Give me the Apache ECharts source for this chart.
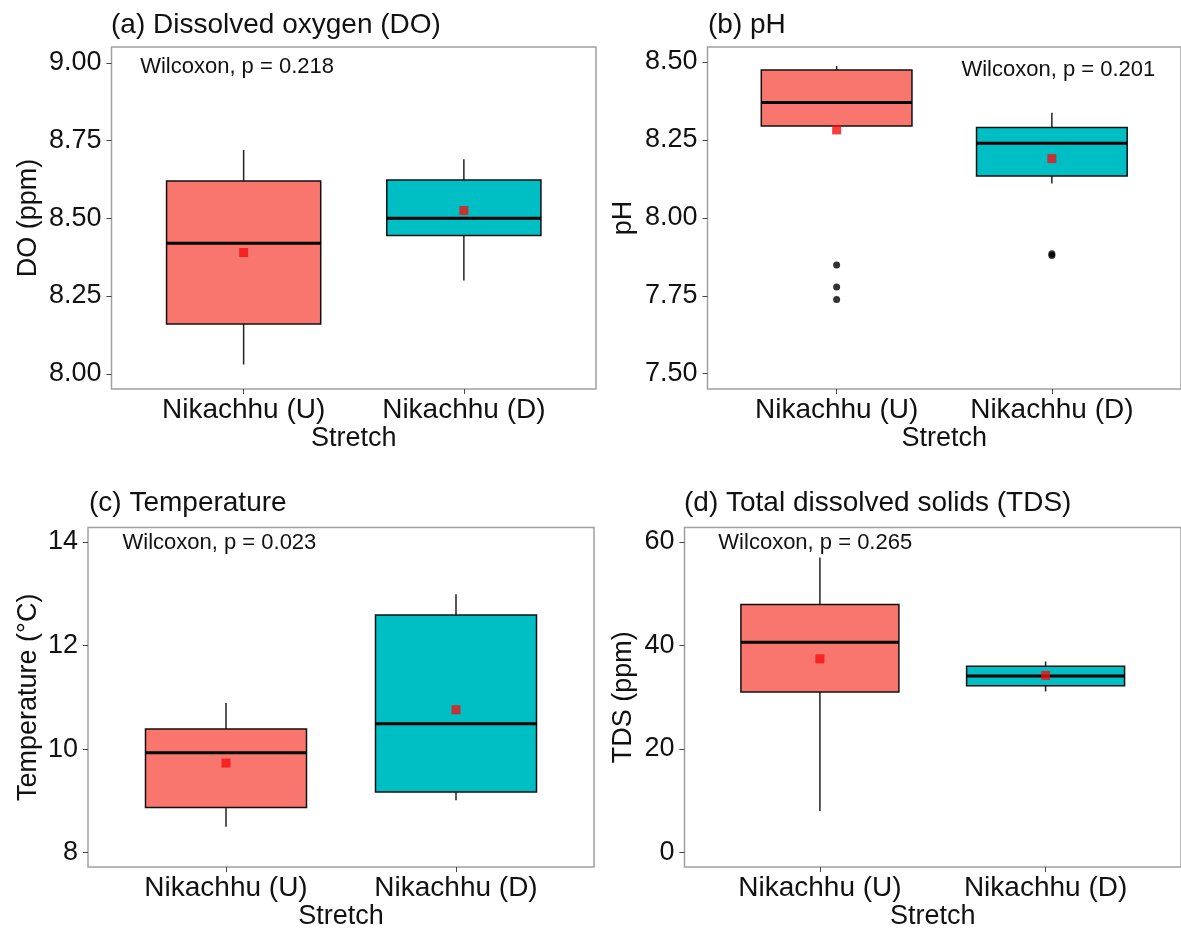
<!DOCTYPE html>
<html>
<head>
<meta charset="utf-8">
<script src="https://cdn.jsdelivr.net/npm/echarts@6/dist/echarts.min.js"></script>
<style>
html,body{margin:0;padding:0;background:#fff;}
#chart{width:1181px;height:931px;}
</style>
</head>
<body>
<div id="chart"></div>
<script>
// ---- data ----
const categories = ['Nikachhu (U)', 'Nikachhu (D)'];
// [lower whisker, Q1, median, Q3, upper whisker]
const doStats = [[8.03, 8.16, 8.42, 8.62, 8.72], [8.30, 8.445, 8.50, 8.623, 8.69]];
const doMeans = [8.39, 8.525];
const phStats = [[8.295, 8.295, 8.37, 8.474, 8.487], [8.11, 8.134, 8.239, 8.29, 8.337]];
const phMeans = [8.282, 8.19];
const phOutliersU = [7.849, 7.778, 7.738];
const phOutliersD = [7.885, 7.879];
const tempStats = [[8.50, 8.87, 9.93, 10.39, 10.89], [9.01, 9.17, 10.49, 12.59, 12.99]];
const tempMeans = [9.73, 10.76];
const tdsStats = [[8.0, 31.0, 40.6, 47.9, 57.0], [31.1, 32.2, 34.1, 36.0, 36.9]];
const tdsMeans = [37.4, 34.2];
const pLabels = ['Wilcoxon, p = 0.218', 'Wilcoxon, p = 0.201', 'Wilcoxon, p = 0.023', 'Wilcoxon, p = 0.265'];
const pLabelPos = [[0.53, 8.987], [1.58, 8.474], [0.55, 13.98], [0.55, 59.8]];
const panelTitles = ['(a) Dissolved oxygen (DO)', '(b) pH', '(c) Temperature', '(d) Total dissolved solids (TDS)'];
const yTitles = ['DO (ppm)', 'pH', 'Temperature (°C)', 'TDS (ppm)'];
const xTitle = 'Stretch';
const doTicks = [8.00, 8.25, 8.50, 8.75, 9.00];
const phTicks = [7.50, 7.75, 8.00, 8.25, 8.50];
const tempTicks = [8, 10, 12, 14];
const tdsTicks = [0, 20, 40, 60];

// ---- layout / style ----
const FONT = 'Liberation Sans, Arial, sans-serif';
const boxColors = ['#F8766D', '#00BFC4'];
const grids = [
  {left: 111.5, top: 47, width: 484.5, height: 342},
  {left: 707.5, top: 47, width: 493.5, height: 342},
  {left: 88, top: 527.5, width: 506, height: 341},
  {left: 684.5, top: 527.5, width: 514, height: 341}
];
const yRanges = [[7.951, 9.051], [7.451, 8.548], [7.72, 14.28], [-2.85, 62.8]];
const yTickSets = [doTicks, phTicks, tempTicks, tdsTicks];
const yDecimals = [2, 2, 0, 0];
const yNameGaps = [69, 70, 46, 47];
const titlePos = [[111, 11], [708, 11], [89, 489], [684, 489]];
const statsSets = [doStats, phStats, tempStats, tdsStats];
const meanSets = [doMeans, phMeans, tempMeans, tdsMeans];

const option = {
  animation: false,
  backgroundColor: '#ffffff',
  textStyle: {fontFamily: FONT},
  title: panelTitles.map((t, i) => ({
    text: t, left: titlePos[i][0], top: titlePos[i][1], padding: 0,
    textStyle: {fontFamily: FONT, fontSize: 28, fontWeight: 'normal', color: '#111'}
  })),
  grid: grids.map(g => Object.assign({show: true, borderColor: '#a0a0a0', borderWidth: 1.5, backgroundColor: 'transparent', containLabel: false}, g)),
  xAxis: grids.map((g, i) => ({
    type: 'value', gridIndex: i, min: 0.4, max: 2.6,
    name: xTitle, nameLocation: 'middle', nameGap: 35,
    nameTextStyle: {fontFamily: FONT, fontSize: 27, color: '#111'},
    splitLine: {show: false},
    axisLine: {show: false, onZero: false},
    axisTick: {show: true, length: 5, customValues: [1, 2], lineStyle: {color: '#444', width: 1}},
    axisLabel: {show: true, customValues: [1, 2], margin: 7, fontFamily: FONT, fontSize: 28, color: '#111',
      formatter: v => categories[Math.round(v) - 1] || ''}
  })),
  yAxis: grids.map((g, i) => ({
    type: 'value', gridIndex: i, min: yRanges[i][0], max: yRanges[i][1],
    name: yTitles[i], nameLocation: 'middle', nameGap: yNameGaps[i], nameRotate: 90,
    nameTextStyle: {fontFamily: FONT, fontSize: 27, color: '#111'},
    splitLine: {show: false},
    axisLine: {show: false, onZero: false},
    axisTick: {show: true, length: 5, customValues: yTickSets[i], lineStyle: {color: '#444', width: 1}},
    axisLabel: {show: true, customValues: yTickSets[i], margin: 10, fontFamily: FONT, fontSize: 27, color: '#111',
      formatter: v => Number(v).toFixed(yDecimals[i])}
  })),
  series: []
};

function boxRender(params, api) {
  const x = api.value(0);
  const lo = api.value(1), q1 = api.value(2), med = api.value(3), q3 = api.value(4), hi = api.value(5);
  const hw = 0.35;
  const tl = api.coord([x - hw, q3]);
  const br = api.coord([x + hw, q1]);
  const c = api.coord([x, med]);
  const pHi = api.coord([x, hi]);
  const pLo = api.coord([x, lo]);
  const color = boxColors[params.dataIndex];
  return {
    type: 'group',
    children: [
      {type: 'line', shape: {x1: c[0], y1: pHi[1], x2: c[0], y2: tl[1]}, style: {stroke: '#222', lineWidth: 1.5}},
      {type: 'line', shape: {x1: c[0], y1: br[1], x2: c[0], y2: pLo[1]}, style: {stroke: '#222', lineWidth: 1.5}},
      {type: 'rect', shape: {x: tl[0], y: tl[1], width: br[0] - tl[0], height: br[1] - tl[1]},
        style: {fill: color, stroke: '#111', lineWidth: 1.5}},
      {type: 'line', shape: {x1: tl[0], y1: c[1], x2: br[0], y2: c[1]}, style: {stroke: '#000', lineWidth: 3}}
    ]
  };
}

function textRender(params, api) {
  const p = api.coord([api.value(0), api.value(1)]);
  return {type: 'text', x: p[0], y: p[1],
    style: {text: pLabels[api.value(2)], fontFamily: FONT, fontSize: 22, fill: '#111',
      textAlign: 'left', textVerticalAlign: 'middle'}};
}

for (let i = 0; i < 4; i++) {
  option.series.push({
    type: 'custom', xAxisIndex: i, yAxisIndex: i, renderItem: boxRender, z: 2,
    encode: {x: 0, y: [1, 2, 3, 4, 5]},
    data: statsSets[i].map((s, k) => [k + 1].concat(s))
  });
  option.series.push({
    type: 'scatter', xAxisIndex: i, yAxisIndex: i, symbol: 'rect', symbolSize: 9, z: 5,
    itemStyle: {color: '#F50F0F'},
    data: meanSets[i].map((m, k) => [k + 1, m])
  });
  option.series.push({
    type: 'custom', xAxisIndex: i, yAxisIndex: i, renderItem: textRender, z: 6,
    data: [[pLabelPos[i][0], pLabelPos[i][1], i]]
  });
}
option.series.push({
  type: 'scatter', xAxisIndex: 1, yAxisIndex: 1, symbol: 'circle', symbolSize: 7, z: 4,
  itemStyle: {color: '#000'},
  data: phOutliersU.map(v => [1, v]).concat(phOutliersD.map(v => [2, v]))
});

const chart = echarts.init(document.getElementById('chart'), null, {renderer: 'canvas'});
chart.setOption(option);
</script>
</body>
</html>
